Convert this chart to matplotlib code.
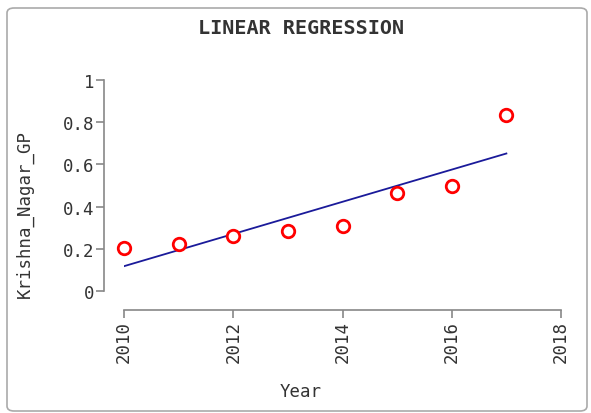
import matplotlib.pyplot as plt
import numpy as np
from matplotlib.patches import FancyBboxPatch

years = np.array([2010, 2011, 2012, 2013, 2014, 2015, 2016, 2017])
values = np.array([0.206, 0.222, 0.261, 0.284, 0.308, 0.464, 0.498, 0.834])
x_ticks = [2010, 2012, 2014, 2016, 2018]
y_ticks = [0, 0.2, 0.4, 0.6, 0.8, 1]
y_labels = ['0', '0.2', '0.4', '0.6', '0.8', '1']

plt.rcParams['font.family'] = 'DejaVu Sans Mono'
text_color = '#333333'
axis_color = '#888888'
W, H = 591, 414

fig = plt.figure(figsize=(W / 100, H / 100), dpi=100)

# rounded frame around the whole chart
frame = FancyBboxPatch((7 / W, 2 / H), 580 / W, 403 / H,
                       boxstyle='round,pad=0,rounding_size=0.012',
                       transform=fig.transFigure, facecolor='none',
                       edgecolor='#aaaaaa', linewidth=1.2, zorder=-1)
fig.patches.append(frame)

ax = fig.add_axes([124 / W, 122 / H, 437 / W, 211 / H])
ax.set_facecolor('none')

# regression line
slope, intercept = np.polyfit(years, values, 1)
ax.plot(years, slope * years + intercept, color='#1a1a9a', linewidth=1.3)
ax.plot(years, values, 'o', markersize=9, markerfacecolor='white',
        markeredgecolor='red', markeredgewidth=2, linestyle='none',
        clip_on=False)

ax.set_xlim(2010, 2018)
ax.set_ylim(0, 1)
ax.set_xticks(x_ticks)
ax.set_xticklabels([str(t) for t in x_ticks])
ax.set_yticks(y_ticks)
ax.set_yticklabels(y_labels)

for s in ['top', 'right']:
    ax.spines[s].set_visible(False)
# offsets are in points (0.72 pt per pixel at 100 dpi)
ax.spines['left'].set_position(('outward', 20 * 0.72))
ax.spines['bottom'].set_position(('outward', 19 * 0.72))
for s in ['left', 'bottom']:
    ax.spines[s].set_color(axis_color)
    ax.spines[s].set_linewidth(1.2)
ax.tick_params(colors=axis_color, length=5.5, width=1.2, labelsize=12.5,
               labelcolor=text_color, pad=1.5)
ax.tick_params(axis='x', labelrotation=90)

fig.text(301 / W, 1 - 392 / H, 'Year', ha='center', va='center',
         fontsize=12.5, color=text_color)
fig.text(25 / W, 1 - 214 / H, 'Krishna_Nagar_GP', ha='center', va='center',
         rotation=90, fontsize=12.5, color=text_color)
fig.text(301 / W, 1 - 28 / H, 'LINEAR REGRESSION', ha='center', va='center',
         fontsize=14.5, fontweight='bold', color=text_color)

fig.savefig('out.png', dpi=100)
